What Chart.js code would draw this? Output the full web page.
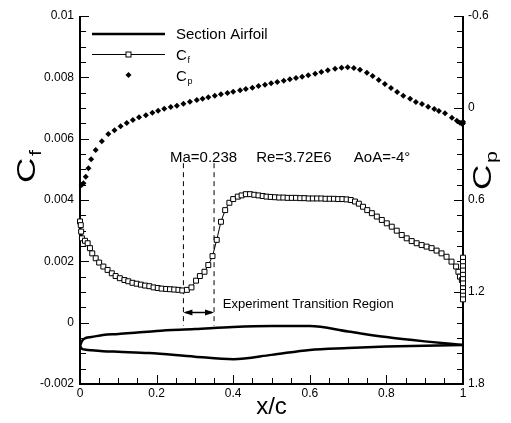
<!DOCTYPE html>
<html>
<head>
<title>Cf / Cp distribution</title>
<script src="https://cdn.jsdelivr.net/npm/chart.js@4/dist/chart.umd.min.js"></script>
<style>
body { margin: 0; background: #fff; }
#wrap { width: 511px; height: 423px; }
</style>
</head>
<body>
<div id="wrap"><canvas id="chart" width="511" height="423"></canvas></div>

<script>
var FONT = '"Liberation Sans", Arial, sans-serif';

// axis ticks
const xTicks = [0, 0.2, 0.4, 0.6, 0.8, 1];
const xTickLabels = ['0', '0.2', '0.4', '0.6', '0.8', '1'];
const cfTicks = [-0.002, 0, 0.002, 0.004, 0.006, 0.008, 0.01];
const cfTickLabels = ['-0.002', '0', '0.002', '0.004', '0.006', '0.008', '0.01'];
const cpTicks = [-0.6, 0, 0.6, 1.2, 1.8];
const cpTickLabels = ['-0.6', '0', '0.6', '1.2', '1.8'];

// section airfoil (plotted on the Cf axis)
const upperX = [0, 0.005, 0.015, 0.03, 0.06, 0.1, 0.15, 0.2, 0.3, 0.4, 0.5, 0.6, 0.7, 0.8, 0.9, 1.0];
const upperY = [-0.00076, -0.0006, -0.0005, -0.00047, -0.0004, -0.00037, -0.00032, -0.00027, -0.00021, -0.00014, -0.00011, -0.00011, -0.00029, -0.00047, -0.00061, -0.00073];
const lowerX = [0, 0.005, 0.015, 0.03, 0.06, 0.1, 0.18, 0.3, 0.4, 0.5, 0.6, 0.7, 0.8, 0.9, 1.0];
const lowerY = [-0.00076, -0.00085, -0.00088, -0.0009, -0.00093, -0.00095, -0.00099, -0.00111, -0.00119, -0.00105, -0.00089, -0.00083, -0.00078, -0.00075, -0.00073];

// skin friction
const cfX = [0, 0.002, 0.003, 0.005, 0.013, 0.02, 0.026, 0.032, 0.041, 0.05, 0.061, 0.072, 0.083, 0.093, 0.104, 0.116, 0.126, 0.137, 0.148, 0.159, 0.17, 0.181, 0.192, 0.203, 0.213, 0.225, 0.235, 0.246, 0.257, 0.267, 0.279, 0.291, 0.303, 0.313, 0.325, 0.335, 0.346, 0.357, 0.368, 0.379, 0.39, 0.4, 0.412, 0.422, 0.433, 0.444, 0.455, 0.466, 0.477, 0.487, 0.498, 0.509, 0.52, 0.531, 0.542, 0.553, 0.564, 0.575, 0.586, 0.597, 0.608, 0.619, 0.63, 0.641, 0.652, 0.663, 0.674, 0.685, 0.696, 0.707, 0.718, 0.728, 0.739, 0.75, 0.762, 0.775, 0.788, 0.801, 0.814, 0.827, 0.84, 0.853, 0.866, 0.879, 0.892, 0.905, 0.918, 0.931, 0.944, 0.957, 0.97, 0.982, 0.988, 0.992, 0.997, 1, 1, 1, 1, 1, 1, 1, 1, 1, 1, 1];
const cfY = [0.0033, 0.00318, 0.00297, 0.00275, 0.00267, 0.00259, 0.00243, 0.00226, 0.0021, 0.00196, 0.00183, 0.00172, 0.00161, 0.00152, 0.00145, 0.00139, 0.00135, 0.0013, 0.00127, 0.00124, 0.00121, 0.00119, 0.00115, 0.00113, 0.00111, 0.0011, 0.00109, 0.00108, 0.00107, 0.00105, 0.00107, 0.00115, 0.00137, 0.00152, 0.00166, 0.00188, 0.00217, 0.0027, 0.00329, 0.00367, 0.00391, 0.00403, 0.00411, 0.00415, 0.00419, 0.00419, 0.00417, 0.00415, 0.00413, 0.00411, 0.0041, 0.00409, 0.00408, 0.00408, 0.00407, 0.00407, 0.00407, 0.00406, 0.00406, 0.00405, 0.00405, 0.00405, 0.00405, 0.00404, 0.00404, 0.00404, 0.00403, 0.00403, 0.00402, 0.004, 0.00395, 0.00388, 0.00378, 0.00367, 0.00357, 0.00346, 0.00335, 0.00324, 0.00313, 0.003, 0.00286, 0.00275, 0.00266, 0.00259, 0.00253, 0.00248, 0.00243, 0.00235, 0.00226, 0.00215, 0.00199, 0.00183, 0.00166, 0.0015, 0.00139, 0.00212, 0.00198, 0.00184, 0.0017, 0.00156, 0.00142, 0.00128, 0.00112, 0.001, 0.00088, 0.00076];

// pressure coefficient
const cpX = [0.004, 0.009, 0.015, 0.022, 0.029, 0.041, 0.057, 0.074, 0.09, 0.106, 0.122, 0.138, 0.154, 0.172, 0.189, 0.204, 0.22, 0.237, 0.253, 0.27, 0.287, 0.305, 0.32, 0.335, 0.352, 0.368, 0.385, 0.4, 0.418, 0.433, 0.45, 0.466, 0.483, 0.499, 0.515, 0.532, 0.548, 0.564, 0.58, 0.596, 0.614, 0.63, 0.647, 0.666, 0.683, 0.699, 0.715, 0.731, 0.749, 0.764, 0.78, 0.796, 0.812, 0.828, 0.844, 0.862, 0.877, 0.893, 0.909, 0.925, 0.937, 0.953, 0.971, 0.984, 0.992, 0.998, 1, 1];
const cpY = [0.502, 0.491, 0.448, 0.393, 0.335, 0.274, 0.217, 0.17, 0.145, 0.119, 0.098, 0.078, 0.061, 0.048, 0.031, 0.018, 0.005, -0.007, -0.015, -0.028, -0.041, -0.052, -0.061, -0.07, -0.08, -0.089, -0.098, -0.106, -0.115, -0.124, -0.132, -0.143, -0.152, -0.161, -0.17, -0.178, -0.187, -0.196, -0.204, -0.213, -0.224, -0.235, -0.247, -0.256, -0.263, -0.265, -0.261, -0.25, -0.23, -0.209, -0.183, -0.157, -0.13, -0.104, -0.08, -0.061, -0.039, -0.026, -0.008, 0.007, 0.02, 0.035, 0.063, 0.083, 0.096, 0.104, 0.1, 0.09];

// experiment transition region
const transX = [0.27, 0.35];
const transTop = 0.0052, transBottom = -0.0001, arrowY = 0.00035;

function pts(xs, ys) {
    return xs.map(function (x, i) { return { x: x, y: ys[i] }; });
}

function subText(ctx, main, sub, x, y, size, stretch) {
    // draws "main" with a subscript, x/y = start of baseline
    ctx.save();
    ctx.translate(x, y);
    ctx.scale(stretch || 1, 1);
    ctx.font = size + 'px ' + FONT;
    ctx.textAlign = 'left';
    ctx.textBaseline = 'alphabetic';
    ctx.fillText(main, 0, 0);
    var w = ctx.measureText(main).width;
    ctx.font = Math.round(size * 0.6) + 'px ' + FONT;
    ctx.fillText(sub, w + size * 0.05, size * 0.22);
    ctx.restore();
}

const frame = {
    id: 'frame',
    beforeDatasetsDraw(chart) {
        const ctx = chart.ctx, a = chart.chartArea;
        const sx = chart.scales.x, sy = chart.scales.y, sp = chart.scales.y2;
        ctx.save();
        ctx.strokeStyle = '#000';
        ctx.fillStyle = '#000';

        // minor ticks
        ctx.lineWidth = 1;
        ctx.beginPath();
        for (let v = -0.002; v <= 0.01 + 1e-9; v += 0.0005) {
            const y = Math.round(sy.getPixelForValue(v)) + 0.5;
            ctx.moveTo(a.left, y); ctx.lineTo(a.left + 6, y);
        }
        for (let v = -0.6; v <= 1.8 + 1e-9; v += 0.1) {
            const y = Math.round(sp.getPixelForValue(v)) + 0.5;
            ctx.moveTo(a.right, y); ctx.lineTo(a.right - 6, y);
        }
        for (let v = 0; v <= 1 + 1e-9; v += 0.05) {
            const x = Math.round(sx.getPixelForValue(v)) + 0.5;
            ctx.moveTo(x, a.bottom); ctx.lineTo(x, a.bottom - 6);
        }
        ctx.stroke();

        // major ticks
        ctx.beginPath();
        cfTicks.forEach(function (v) {
            const y = Math.round(sy.getPixelForValue(v)) + 0.5;
            ctx.moveTo(a.left, y); ctx.lineTo(a.left + 9, y);
        });
        cpTicks.forEach(function (v) {
            const y = Math.round(sp.getPixelForValue(v)) + 0.5;
            ctx.moveTo(a.right, y); ctx.lineTo(a.right - 9, y);
        });
        xTicks.forEach(function (v) {
            const x = Math.round(sx.getPixelForValue(v)) + 0.5;
            ctx.moveTo(x, a.bottom); ctx.lineTo(x, a.bottom - 9);
        });
        ctx.stroke();

        // axis lines (no top line)
        ctx.lineWidth = 2;
        ctx.beginPath();
        ctx.moveTo(a.left, a.top); ctx.lineTo(a.left, a.bottom);
        ctx.lineTo(a.right, a.bottom); ctx.lineTo(a.right, a.top);
        ctx.stroke();

        // tick labels
        ctx.font = '12px ' + FONT;
        ctx.textBaseline = 'middle';
        ctx.textAlign = 'right';
        cfTicks.forEach(function (v, i) {
            ctx.fillText(cfTickLabels[i], a.left - 6, sy.getPixelForValue(v));
        });
        ctx.textAlign = 'left';
        cpTicks.forEach(function (v, i) {
            ctx.fillText(cpTickLabels[i], a.right + 5, sp.getPixelForValue(v));
        });
        ctx.textAlign = 'center';
        ctx.textBaseline = 'top';
        xTicks.forEach(function (v, i) {
            ctx.fillText(xTickLabels[i], sx.getPixelForValue(v), a.bottom + 4);
        });

        // axis titles
        ctx.font = '24px ' + FONT;
        ctx.textBaseline = 'alphabetic';
        ctx.textAlign = 'center';
        ctx.fillText('x/c', (a.left + a.right) / 2, 414);

        ctx.save();
        ctx.translate(35, 183);
        ctx.rotate(-Math.PI / 2);
        subText(ctx, 'C', 'f', 0, 0, 26, 1.35);
        ctx.restore();

        ctx.save();
        ctx.translate(491, 190);
        ctx.rotate(-Math.PI / 2);
        subText(ctx, 'C', 'p', 0, 0, 26, 1.35);
        ctx.restore();

        ctx.restore();
    },
    afterDatasetsDraw(chart) {
        const ctx = chart.ctx, a = chart.chartArea;
        const sx = chart.scales.x, sy = chart.scales.y;
        ctx.save();
        ctx.strokeStyle = '#000';
        ctx.fillStyle = '#000';

        // legend
        const lx = a.left + 12, lw = 73, tx = a.left + 96;
        ctx.lineWidth = 2.5;
        ctx.beginPath(); ctx.moveTo(lx, 34); ctx.lineTo(lx + lw, 34); ctx.stroke();
        ctx.lineWidth = 1;
        ctx.beginPath(); ctx.moveTo(lx, 54.5); ctx.lineTo(lx + lw, 54.5); ctx.stroke();
        ctx.fillStyle = '#fff';
        ctx.fillRect(lx + lw / 2 - 2.5, 52, 5, 5);
        ctx.strokeRect(lx + lw / 2 - 2.5, 52, 5, 5);
        ctx.fillStyle = '#000';
        ctx.beginPath();
        const dx = lx + lw / 2, dy = 75;
        ctx.moveTo(dx - 3, dy); ctx.lineTo(dx, dy - 3); ctx.lineTo(dx + 3, dy); ctx.lineTo(dx, dy + 3);
        ctx.closePath(); ctx.fill();

        ctx.font = '15px ' + FONT;
        ctx.textAlign = 'left';
        ctx.textBaseline = 'alphabetic';
        ctx.fillText('Section Airfoil', tx, 39);
        subText(ctx, 'C', 'f', tx, 60, 15, 1);
        subText(ctx, 'C', 'p', tx, 81, 15, 1);

        // flow conditions
        ctx.font = '15px ' + FONT;
        const cy = sy.getPixelForValue(0.0054) + 5;
        ctx.fillText('Ma=0.238', sx.getPixelForValue(0.235), cy);
        ctx.fillText('Re=3.72E6', sx.getPixelForValue(0.46), cy);
        ctx.fillText('AoA=-4\u00B0', sx.getPixelForValue(0.715), cy);

        // transition arrow
        const x1 = sx.getPixelForValue(transX[0]), x2 = sx.getPixelForValue(transX[1]);
        const ay = Math.round(sy.getPixelForValue(arrowY)) + 0.5;
        ctx.lineWidth = 1.5;
        ctx.beginPath(); ctx.moveTo(x1 + 2, ay); ctx.lineTo(x2 - 2, ay); ctx.stroke();
        ctx.beginPath();
        ctx.moveTo(x1, ay); ctx.lineTo(x1 + 9, ay - 3); ctx.lineTo(x1 + 9, ay + 3); ctx.closePath();
        ctx.moveTo(x2, ay); ctx.lineTo(x2 - 9, ay - 3); ctx.lineTo(x2 - 9, ay + 3); ctx.closePath();
        ctx.fill();

        ctx.font = '13px ' + FONT;
        ctx.textBaseline = 'middle';
        ctx.fillText('Experiment Transition Region', sx.getPixelForValue(0.373), sy.getPixelForValue(0.00058));
        ctx.restore();
    }
};

const ctx = document.getElementById('chart').getContext('2d');
new Chart(ctx, {
    type: 'scatter',
    data: {
        datasets: [{
            label: 'Section Airfoil upper',
            data: pts(upperX, upperY),
            showLine: true,
            cubicInterpolationMode: 'monotone',
            borderColor: '#000',
            borderWidth: 2.5,
            pointRadius: 0
        }, {
            label: 'Section Airfoil lower',
            data: pts(lowerX, lowerY),
            showLine: true,
            cubicInterpolationMode: 'monotone',
            borderColor: '#000',
            borderWidth: 2.5,
            pointRadius: 0
        }, {
            label: 'Cf',
            data: pts(cfX, cfY),
            showLine: true,
            borderColor: '#000',
            borderWidth: 1,
            pointStyle: 'rect',
            pointRadius: 3.5,
            pointBackgroundColor: '#fff',
            pointBorderColor: '#000',
            pointBorderWidth: 1,
            clip: 8
        }, {
            label: 'Cp',
            data: pts(cpX, cpY),
            yAxisID: 'y2',
            showLine: false,
            pointStyle: 'rectRot',
            pointRadius: 3,
            pointBackgroundColor: '#000',
            pointBorderColor: '#000',
            pointBorderWidth: 0,
            clip: 8
        }, {
            label: 'transition start',
            data: [{ x: transX[0], y: transTop }, { x: transX[0], y: transBottom }],
            showLine: true,
            borderColor: '#000',
            borderWidth: 1,
            borderDash: [5, 4],
            pointRadius: 0
        }, {
            label: 'transition end',
            data: [{ x: transX[1], y: transTop }, { x: transX[1], y: transBottom }],
            showLine: true,
            borderColor: '#000',
            borderWidth: 1,
            borderDash: [5, 4],
            pointRadius: 0
        }]
    },
    options: {
        responsive: false,
        animation: false,
        events: [],
        layout: { padding: { left: 80, top: 16, right: 48, bottom: 39 } },
        plugins: {
            legend: { display: false },
            tooltip: { enabled: false }
        },
        scales: {
            x: { type: 'linear', min: 0, max: 1, display: false },
            y: { type: 'linear', min: -0.002, max: 0.01, display: false },
            y2: { type: 'linear', min: -0.6, max: 1.8, reverse: true, display: false }
        }
    },
    plugins: [frame]
});
</script>
</body>
</html>
